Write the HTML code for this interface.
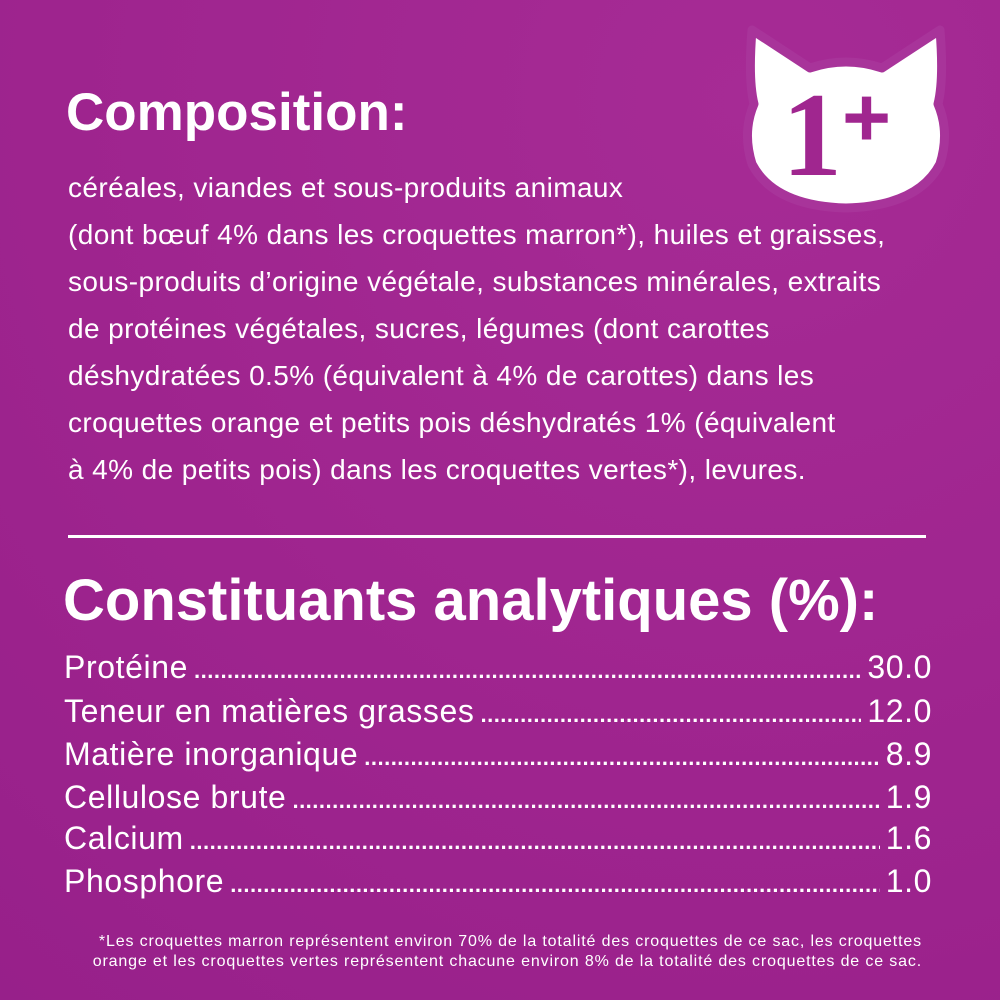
<!DOCTYPE html>
<html><head><meta charset="utf-8"><style>
body{margin:0;width:1000px;height:1000px;overflow:hidden;background:#a0268f;font-family:"Liberation Sans",sans-serif;color:#fff;position:relative}
.bg{position:absolute;inset:0;background:radial-gradient(circle at 75% 10%,#a62b95 0%,#9e248e 60%,#97208a 100%)}
.a{position:absolute;white-space:nowrap}
h1{position:absolute;margin:0;font-weight:bold;white-space:nowrap}
.p{left:68px;font-size:28px;letter-spacing:0.4px;line-height:1}
.row{position:absolute;left:64px;width:868px;display:flex;font-size:32px;letter-spacing:0.6px;line-height:1;align-items:baseline}
.row .d{flex:1;overflow:hidden;white-space:nowrap;margin:0 6px;font-size:22px;font-weight:bold;letter-spacing:0.5px}
.fn{right:78px;font-size:16px;letter-spacing:0.85px;text-align:right}
</style></head><body><div class="bg"></div>
<svg class="a" style="left:738px;top:20px" width="216" height="196" viewBox="0 0 216 196">
<path d="M14 10 L72 48 Q108 36 144 48 L202 10 Q206 60 200 84 Q212 112 202 144 Q180 186 108 188 Q36 186 14 144 Q4 112 16 84 Q10 60 14 10Z" fill="#fff" stroke="#a8349a" stroke-width="9" stroke-linejoin="round"/>
<text x="44" y="155" font-family="Liberation Serif" font-weight="bold" font-size="120" fill="#a0268f">1</text>
<text x="104" y="126" font-family="Liberation Sans" font-weight="bold" font-size="84" fill="#a0268f">+</text>
</svg>
<h1 style="left:66px;top:82px;font-size:53px">Composition:</h1>
<div class="a p" style="top:174px">céréales, viandes et sous-produits animaux</div>
<div class="a p" style="top:221px">(dont bœuf 4% dans les croquettes marron*), huiles et graisses,</div>
<div class="a p" style="top:268px">sous-produits d’origine végétale, substances minérales, extraits</div>
<div class="a p" style="top:315px">de protéines végétales, sucres, légumes (dont carottes</div>
<div class="a p" style="top:362px">déshydratées 0.5% (équivalent à 4% de carottes) dans les</div>
<div class="a p" style="top:409px">croquettes orange et petits pois déshydratés 1% (équivalent</div>
<div class="a p" style="top:456px">à 4% de petits pois) dans les croquettes vertes*), levures.</div>
<div class="a" style="left:68px;top:535px;width:858px;height:3px;background:#fff"></div>
<h1 style="left:63px;top:567px;font-size:58px">Constituants analytiques (%):</h1>
<div class="row" style="top:651px"><span>Protéine</span><span class="d">..............................................................................................................................................</span><span>30.0</span></div>
<div class="row" style="top:695px"><span>Teneur en matières grasses</span><span class="d">..............................................................................................................................................</span><span>12.0</span></div>
<div class="row" style="top:738px"><span>Matière inorganique</span><span class="d">..............................................................................................................................................</span><span>8.9</span></div>
<div class="row" style="top:781px"><span>Cellulose brute</span><span class="d">..............................................................................................................................................</span><span>1.9</span></div>
<div class="row" style="top:822px"><span>Calcium</span><span class="d">..............................................................................................................................................</span><span>1.6</span></div>
<div class="row" style="top:865px"><span>Phosphore</span><span class="d">..............................................................................................................................................</span><span>1.0</span></div>
<div class="a fn" style="top:933px">*Les croquettes marron représentent environ 70% de la totalité des croquettes de ce sac, les croquettes</div>
<div class="a fn" style="top:953px">orange et les croquettes vertes représentent chacune environ 8% de la totalité des croquettes de ce sac.</div>
</body></html>
